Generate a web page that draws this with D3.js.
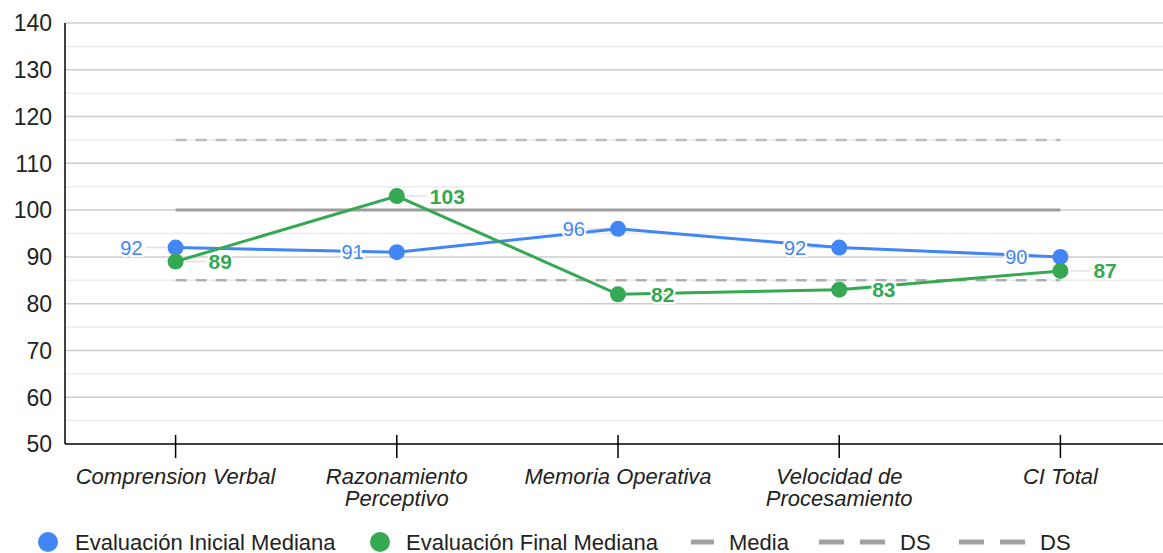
<!DOCTYPE html>
<html>
<head>
<meta charset="utf-8">
<script src="https://cdn.jsdelivr.net/npm/d3@7"></script>
<style>
  body { margin: 0; background: #fff; }
  svg { font-family: "Liberation Sans", Arial, sans-serif; display: block; }
</style>
</head>
<body>
<svg id="chart" width="1163" height="553"></svg>
<script>
// data
var categories = ["Comprension Verbal", "Razonamiento\nPerceptivo", "Memoria Operativa", "Velocidad de\nProcesamiento", "CI Total"];
var inicial = [92, 91, 96, 92, 90];
var final = [89, 103, 82, 83, 87];
var media = 100;
var dsHigh = 115;
var dsLow = 85;
var yTicks = [50, 60, 70, 80, 90, 100, 110, 120, 130, 140];

var BLUE = "#4285f4", GREEN = "#34a853";

var svg = d3.select("#chart"),
    width = +svg.attr("width"),
    height = +svg.attr("height");

var plotLeft = 65, plotRight = 1171, plotTop = 23, plotBottom = 444;

var x = d3.scalePoint().domain(categories).range([plotLeft, plotRight]).padding(0.5);
var y = d3.scaleLinear().domain([50, 140]).range([plotBottom, plotTop]);

// gridlines: minor every 5, major every 10
var minor = d3.range(55, 140, 10);
svg.append("g").selectAll("line").data(minor).enter().append("line")
    .attr("x1", plotLeft).attr("x2", width)
    .attr("y1", function(d) { return y(d); }).attr("y2", function(d) { return y(d); })
    .attr("stroke", "#ebebeb").attr("stroke-width", 1.5);
svg.append("g").selectAll("line").data(yTicks.slice(1)).enter().append("line")
    .attr("x1", plotLeft).attr("x2", width)
    .attr("y1", function(d) { return y(d); }).attr("y2", function(d) { return y(d); })
    .attr("stroke", "#cccccc").attr("stroke-width", 1.5);

// y tick labels
svg.append("g").selectAll("text").data(yTicks).enter().append("text")
    .attr("x", 52).attr("y", function(d) { return y(d); })
    .attr("dy", "0.36em")
    .attr("text-anchor", "end")
    .attr("font-size", 23)
    .attr("fill", "#222")
    .text(function(d) { return d; });

// reference lines
var first = categories[0], last = categories[categories.length - 1];
function refLine(v, color, w, dash) {
  svg.append("line")
    .attr("x1", x(first)).attr("x2", x(last))
    .attr("y1", y(v)).attr("y2", y(v))
    .attr("stroke", color).attr("stroke-width", w)
    .attr("stroke-dasharray", dash);
}
refLine(dsHigh, "#bdbdbd", 2.5, "11,9");
refLine(dsLow, "#b0b0b0", 2.5, "11,9");
refLine(media, "#9e9e9e", 3, null);

// axes
svg.append("line").attr("x1", plotLeft).attr("x2", plotLeft).attr("y1", plotTop).attr("y2", plotBottom)
    .attr("stroke", "#000").attr("stroke-width", 1.5);
svg.append("line").attr("x1", plotLeft).attr("x2", width).attr("y1", plotBottom).attr("y2", plotBottom)
    .attr("stroke", "#000").attr("stroke-width", 1.5);
svg.append("g").selectAll("line").data(categories).enter().append("line")
    .attr("x1", function(d) { return x(d); }).attr("x2", function(d) { return x(d); })
    .attr("y1", plotBottom - 9).attr("y2", plotBottom + 14)
    .attr("stroke", "#000").attr("stroke-width", 1.5);

// x labels
svg.append("g").selectAll("text").data(categories).enter().append("text")
    .attr("x", function(d) { return x(d); })
    .attr("y", 484)
    .attr("text-anchor", "middle")
    .attr("font-size", 22)
    .attr("font-style", "italic")
    .attr("fill", "#222")
    .each(function(d) {
      var t = d3.select(this);
      d.split("\n").forEach(function(part, i) {
        t.append("tspan").attr("x", x(d)).attr("dy", i ? 22 : 0).text(part);
      });
    });

// series
function drawSeries(vals, color, side, bold) {
  var pts = vals.map(function(v, i) { return [x(categories[i]), y(v), v]; });
  var g = svg.append("g");
  // leader lines
  g.selectAll("line.lead").data(pts).enter().append("line")
    .attr("x1", function(d) { return d[0] + side * 10; })
    .attr("x2", function(d) { return d[0] + side * 30; })
    .attr("y1", function(d) { return d[1]; }).attr("y2", function(d) { return d[1]; })
    .attr("stroke", "#e0e0e0").attr("stroke-width", 1.5);
  g.append("path")
    .attr("d", d3.line()(pts.map(function(d) { return [d[0], d[1]]; })))
    .attr("fill", "none").attr("stroke", color).attr("stroke-width", 3);
  g.selectAll("circle").data(pts).enter().append("circle")
    .attr("cx", function(d) { return d[0]; }).attr("cy", function(d) { return d[1]; })
    .attr("r", 8).attr("fill", color);
  g.selectAll("text").data(pts).enter().append("text")
    .attr("x", function(d) { return d[0] + side * 33; })
    .attr("y", function(d) { return d[1]; })
    .attr("dy", "0.36em")
    .attr("text-anchor", side < 0 ? "end" : "start")
    .attr("font-size", bold ? 21 : 20)
    .attr("font-weight", bold ? "bold" : "normal")
    .attr("fill", color)
    .attr("stroke", "#fff").attr("stroke-width", 4)
    .attr("paint-order", "stroke")
    .text(function(d) { return d[2]; });
}
drawSeries(inicial, BLUE, -1, false);
drawSeries(final, GREEN, 1, true);

// legend
var ly = 542;
var legend = svg.append("g").attr("font-size", 22).attr("fill", "#222");
legend.append("circle").attr("cx", 48).attr("cy", ly).attr("r", 10).attr("fill", BLUE);
legend.append("text").attr("x", 75).attr("y", ly).attr("dy", "0.36em").text("Evaluación Inicial Mediana");
legend.append("circle").attr("cx", 380).attr("cy", ly).attr("r", 10).attr("fill", GREEN);
legend.append("text").attr("x", 406).attr("y", ly).attr("dy", "0.36em").text("Evaluación Final Mediana");
legend.append("line").attr("x1", 691).attr("x2", 714).attr("y1", ly).attr("y2", ly)
    .attr("stroke", "#a0a0a0").attr("stroke-width", 5);
legend.append("text").attr("x", 729).attr("y", ly).attr("dy", "0.36em").text("Media");
[819, 959].forEach(function(sx) {
  legend.append("line").attr("x1", sx).attr("x2", sx + 66).attr("y1", ly).attr("y2", ly)
    .attr("stroke", "#a0a0a0").attr("stroke-width", 5).attr("stroke-dasharray", "25,16");
  legend.append("text").attr("x", sx + 81).attr("y", ly).attr("dy", "0.36em").text("DS");
});
</script>
</body>
</html>
